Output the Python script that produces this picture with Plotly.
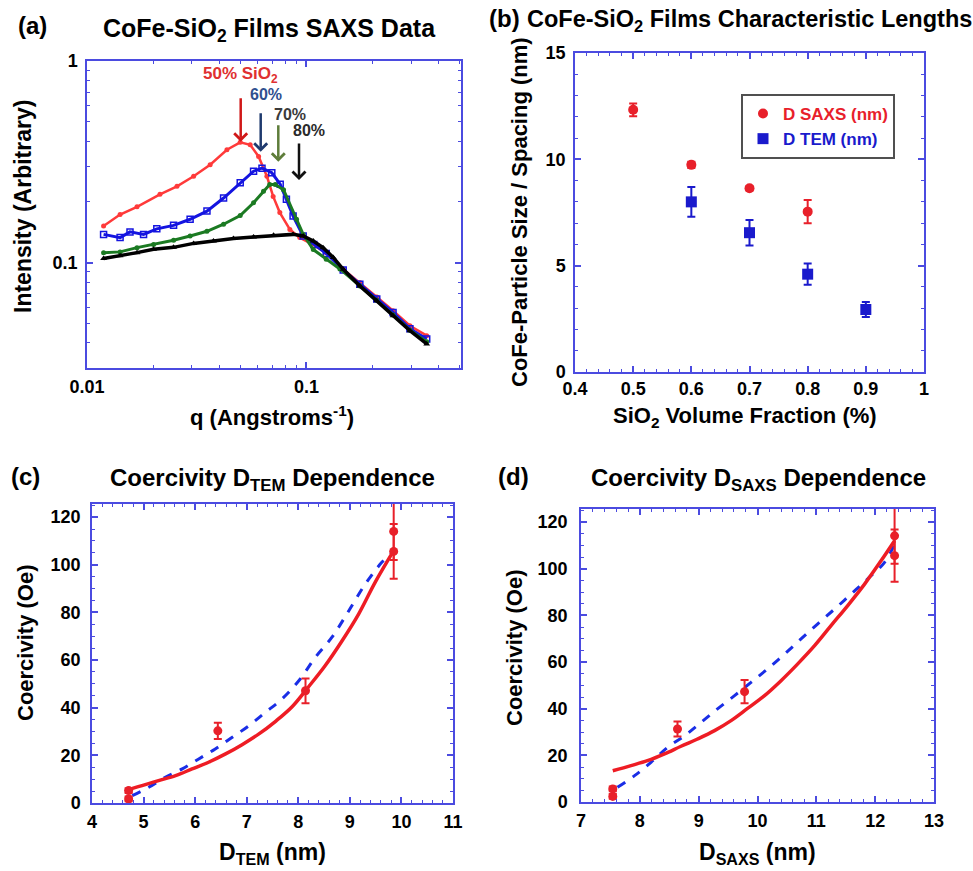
import plotly.graph_objects as go

W, H = 973, 871

# ---------------- data ----------------
# (a) SAXS intensity vs q
q_red = [0.0119, 0.01415, 0.0169, 0.0215, 0.0257, 0.0306, 0.0364, 0.0434, 0.0499, 0.0554, 0.0605,
         0.066, 0.0705, 0.0756, 0.084, 0.0932, 0.105, 0.123, 0.147, 0.175, 0.209, 0.248, 0.296, 0.353]
I_red = [0.152, 0.173, 0.189, 0.218, 0.239, 0.268, 0.306, 0.363, 0.395, 0.384, 0.336,
         0.268, 0.213, 0.177, 0.146, 0.133, 0.124, 0.112, 0.0926, 0.0796, 0.0675, 0.0577, 0.0486, 0.0434]

q_blue = [0.0119, 0.01415, 0.0157, 0.0181, 0.0208, 0.0248, 0.0295, 0.0352, 0.0419, 0.0499, 0.0574, 0.0627,
          0.0695, 0.0759, 0.081, 0.0869, 0.0966, 0.108, 0.123, 0.147, 0.175, 0.209, 0.248, 0.296, 0.353]
I_blue = [0.138, 0.133, 0.142, 0.138, 0.147, 0.153, 0.164, 0.180, 0.209, 0.249, 0.284, 0.294,
          0.279, 0.245, 0.206, 0.170, 0.1355, 0.123, 0.111, 0.092, 0.078, 0.066, 0.0566, 0.047, 0.0418]

q_green = [0.0119, 0.01415, 0.0169, 0.0201, 0.0248, 0.0295, 0.0352, 0.0419, 0.0499, 0.0574, 0.0637, 0.068,
           0.072, 0.0786, 0.0901, 0.0966, 0.1074, 0.123, 0.142, 0.175, 0.209, 0.248, 0.296, 0.353]
I_green = [0.112, 0.113, 0.1186, 0.123, 0.129, 0.1355, 0.143, 0.155, 0.171, 0.198, 0.226, 0.244,
           0.244, 0.230, 0.164, 0.138, 0.116, 0.104, 0.093, 0.0766, 0.065, 0.055, 0.0462, 0.0405]

q_black = [0.0119, 0.01415, 0.0169, 0.0201, 0.0248, 0.0306, 0.0377, 0.0465, 0.0574, 0.0708, 0.0869,
           0.0966, 0.1074, 0.119, 0.1324, 0.147, 0.175, 0.209, 0.248, 0.296, 0.353]
I_black = [0.1047, 0.108, 0.112, 0.1164, 0.119, 0.1245, 0.128, 0.1315, 0.134, 0.1365, 0.138,
           0.1355, 0.128, 0.1186, 0.106, 0.0926, 0.0766, 0.0646, 0.0545, 0.0459, 0.0395]

# (b) characteristic lengths
frac_saxs = [0.5, 0.6, 0.7, 0.8]
d_saxs = [12.33, 9.74, 8.64, 7.54]
d_saxs_err = [0.3, 0.15, 0.1, 0.55]
frac_tem = [0.6, 0.7, 0.8, 0.9]
d_tem = [8.0, 6.55, 4.6, 2.94]
d_tem_err = [0.7, 0.6, 0.5, 0.35]

# (c) coercivity vs D_TEM
c_D = [4.71, 4.71, 6.44, 8.14, 9.85, 9.85]
c_H = [1.7, 5.2, 30.3, 47.1, 114.0, 105.6]
c_err = [1.0, 1.0, 3.4, 5.2, 12.0, 11.5]
c_fit1_x = [4.68, 4.97, 5.29, 5.62, 5.94, 6.26, 6.59, 6.91, 7.23, 7.56, 7.88, 8.20, 8.52, 8.85, 9.17, 9.49, 9.85]
c_fit1_y = [5.5, 7.3, 9.4, 11.5, 14.3, 17.1, 20.6, 24.5, 28.9, 34.3, 40.4, 48.8, 57.6, 68.1, 79.3, 92.6, 105.9]
c_fit2_x = [4.78, 5.10, 5.42, 5.75, 6.07, 6.39, 6.72, 7.04, 7.36, 7.68, 8.01, 8.33, 8.65, 8.98, 9.30, 9.62, 9.79]
c_fit2_y = [3.1, 6.6, 10.8, 14.3, 18.5, 22.7, 27.6, 32.4, 38.0, 43.6, 51.3, 61.1, 69.5, 80.7, 91.9, 101.0, 104.5]

# (d) coercivity vs D_SAXS
d_D = [7.54, 7.54, 8.64, 9.78, 12.33, 12.33]
d_H = [2.4, 5.6, 31.3, 47.3, 114.1, 105.6]
d_err = [1.0, 1.0, 3.2, 5.0, 12.0, 11.2]
d_fit1_x = [7.54, 7.85, 8.13, 8.42, 8.70, 8.98, 9.27, 9.55, 9.83, 10.12, 10.40, 10.68, 10.97, 11.25, 11.53, 11.82, 12.10, 12.33]
d_fit1_y = [13.4, 15.6, 17.7, 20.6, 23.9, 27.0, 30.6, 34.9, 40.1, 45.6, 52.0, 59.1, 67.0, 75.6, 84.1, 93.4, 103.4, 112.0]
d_fit2_x = [7.62, 7.91, 8.19, 8.47, 8.76, 9.04, 9.32, 9.61, 9.89, 10.17, 10.46, 10.74, 11.02, 11.31, 11.59, 11.87, 12.16, 12.33]
d_fit2_y = [6.3, 11.3, 17.0, 23.4, 28.4, 34.1, 39.9, 45.6, 51.3, 57.0, 63.4, 69.9, 76.3, 82.7, 89.1, 95.6, 102.7, 110.6]

# ---------------- styles ----------------
FONT = "Liberation Sans"
FRAME = "#4b4be0"
RED = "#e8202a"
BLUE = "#1a2ee6"


def px(x):
    return x / W


def py(y):
    return 1 - y / H


fig = go.Figure()

# (a)
fig.add_trace(go.Scatter(x=q_red, y=I_red, mode="lines+markers", xaxis="x", yaxis="y", showlegend=False,
                         line=dict(color="#ff3a3a", width=2.5), marker=dict(color="#ff3a3a", size=5, symbol="circle")))
fig.add_trace(go.Scatter(x=q_blue, y=I_blue, mode="lines+markers", xaxis="x", yaxis="y", showlegend=False,
                         line=dict(color="#1414e0", width=3),
                         marker=dict(color="#1414e0", size=6, symbol="square-open", line=dict(width=1.5))))
fig.add_trace(go.Scatter(x=q_green, y=I_green, mode="lines+markers", xaxis="x", yaxis="y", showlegend=False,
                         line=dict(color="#1b7a22", width=3), marker=dict(color="#1b7a22", size=5, symbol="circle")))
fig.add_trace(go.Scatter(x=q_black, y=I_black, mode="lines+markers", xaxis="x", yaxis="y", showlegend=False,
                         line=dict(color="#000000", width=3.5), marker=dict(color="#000000", size=6, symbol="triangle-up")))

# (b)
fig.add_trace(go.Scatter(x=frac_saxs, y=d_saxs, mode="markers", xaxis="x2", yaxis="y2",
                         name="<span style='color:#e8202a'>D SAXS (nm)</span>",
                         marker=dict(color=RED, size=10, symbol="circle"),
                         error_y=dict(type="data", array=d_saxs_err, color=RED, thickness=2, width=4)))
fig.add_trace(go.Scatter(x=frac_tem, y=d_tem, mode="markers", xaxis="x2", yaxis="y2",
                         name="<span style='color:#1a1acc'>D TEM (nm)</span>",
                         marker=dict(color="#1a1acc", size=11, symbol="square"),
                         error_y=dict(type="data", array=d_tem_err, color="#1a1acc", thickness=2, width=4)))

# (c)
fig.add_trace(go.Scatter(x=c_fit2_x, y=c_fit2_y, mode="lines", xaxis="x3", yaxis="y3", showlegend=False,
                         line=dict(color=BLUE, width=3, dash="dash", shape="spline")))
fig.add_trace(go.Scatter(x=c_fit1_x, y=c_fit1_y, mode="lines", xaxis="x3", yaxis="y3", showlegend=False,
                         line=dict(color="#ee1c24", width=3.5, shape="spline")))
fig.add_trace(go.Scatter(x=c_D, y=c_H, mode="markers", xaxis="x3", yaxis="y3", showlegend=False,
                         marker=dict(color=RED, size=9),
                         error_y=dict(type="data", array=c_err, color=RED, thickness=2, width=4)))

# (d)
fig.add_trace(go.Scatter(x=d_fit2_x, y=d_fit2_y, mode="lines", xaxis="x4", yaxis="y4", showlegend=False,
                         line=dict(color=BLUE, width=3, dash="dash", shape="spline")))
fig.add_trace(go.Scatter(x=d_fit1_x, y=d_fit1_y, mode="lines", xaxis="x4", yaxis="y4", showlegend=False,
                         line=dict(color="#ee1c24", width=3.5, shape="spline")))
fig.add_trace(go.Scatter(x=d_D, y=d_H, mode="markers", xaxis="x4", yaxis="y4", showlegend=False,
                         marker=dict(color=RED, size=9),
                         error_y=dict(type="data", array=d_err, color=RED, thickness=2, width=4)))


def axis(domain, rng, **kw):
    d = dict(domain=domain, range=rng, showline=True, linecolor=FRAME, linewidth=1.5, mirror="allticks",
             ticks="inside", ticklen=6, tickwidth=1.5, tickcolor=FRAME, showgrid=False, zeroline=False,
             automargin=False,
             tickfont=dict(family=FONT, size=18, color="black", weight="bold"))
    d.update(kw)
    return d


def minor_lin(dt):
    return dict(ticks="inside", ticklen=3, tickwidth=1, tickcolor=FRAME, dtick=dt, showgrid=False)


fig.update_layout(
    width=W, height=H, margin=dict(l=0, r=0, t=0, b=0, autoexpand=False),
    paper_bgcolor="white", plot_bgcolor="white",
    font=dict(family=FONT, color="black"),
    xaxis=axis([px(87), px(461)], [-2, -0.296], type="log", anchor="y",
               tickvals=[0.01, 0.1], ticktext=["0.01", "0.1"], ticklabelstandoff=2,
               minor=dict(ticks="inside", ticklen=3, tickwidth=1, tickcolor=FRAME,
                          tickvals=[0.02, 0.03, 0.04, 0.05, 0.06, 0.07, 0.08, 0.09, 0.2, 0.3, 0.4, 0.5])),
    yaxis=axis([py(368), py(61)], [-1.523, 0], type="log", anchor="x",
               tickvals=[0.1, 1], ticktext=["0.1", "1"], ticklabelstandoff=4,
               minor=dict(ticks="inside", ticklen=3, tickwidth=1, tickcolor=FRAME,
                          tickvals=[0.04, 0.05, 0.06, 0.07, 0.08, 0.09, 0.2, 0.3, 0.4, 0.5, 0.6, 0.7, 0.8, 0.9])),
    xaxis2=axis([px(575), px(924)], [0.4, 1.0], anchor="y2",
                tickvals=[0.4, 0.5, 0.6, 0.7, 0.8, 0.9, 1.0],
                ticktext=["0.4", "0.5", "0.6", "0.7", "0.8", "0.9", "1"], ticklabelstandoff=0,
                minor=minor_lin(0.02)),
    yaxis2=axis([py(372), py(53)], [0, 15], anchor="x2", dtick=5, ticklabelstandoff=4, minor=minor_lin(1)),
    xaxis3=axis([px(92), px(453)], [4, 11], anchor="y3", dtick=1, ticklabelstandoff=2, minor=minor_lin(0.2)),
    yaxis3=axis([py(803), py(504)], [0, 125.5], anchor="x3", dtick=20, ticklabelstandoff=6, minor=minor_lin(5)),
    xaxis4=axis([px(581), px(934)], [7, 13], anchor="y4", dtick=1, ticklabelstandoff=2, minor=minor_lin(0.2)),
    yaxis4=axis([py(802), py(509)], [0, 125.6], anchor="x4", dtick=20, ticklabelstandoff=8, minor=minor_lin(5)),
    legend=dict(x=px(741), y=py(94), xanchor="left", yanchor="top", bgcolor="white",
                bordercolor="#505050", borderwidth=2, font=dict(family=FONT, size=17, weight="bold"),
                itemwidth=30, tracegroupgap=0),
)


def txt(x, y, s, size=22, color="black", angle=0, xanchor="center", pad=1):
    fig.add_annotation(x=px(x), y=py(y), xref="paper", yref="paper", text=s, showarrow=False,
                       textangle=angle, xanchor=xanchor, yanchor="middle", borderpad=pad,
                       font=dict(family=FONT, size=size, color=color, weight="bold"))


# panel labels & titles
txt(32, 26, "(a)", 24)
txt(269, 30, "CoFe-SiO<sub>2</sub> Films SAXS Data", 25)
txt(505, 18, "(b)", 24)
txt(749, 20, "CoFe-SiO<sub>2</sub> Films Characteristic Lengths", 23.5)
txt(25, 476, "(c)", 24)
txt(272, 480, "Coercivity D<sub>TEM</sub> Dependence", 24)
txt(513, 476, "(d)", 24)
txt(758, 480, "Coercivity D<sub>SAXS</sub> Dependence", 24)

# axis titles
txt(23, 207, "Intensity (Arbitrary)", 23, angle=-90)
txt(272, 416, "q (Angstroms<sup>-1</sup>)", 22)
txt(520, 212, "CoFe-Particle Size / Spacing (nm)", 22, angle=-90)
txt(745, 417, "SiO<sub>2</sub> Volume Fraction (%)", 22)
txt(25, 643, "Coercivity (Oe)", 22, angle=-90)
txt(272, 853, "D<sub>TEM</sub> (nm)", 23)
txt(514, 648, "Coercivity (Oe)", 22, angle=-90)
txt(757, 853, "D<sub>SAXS</sub> (nm)", 23)

# peak labels in (a)
txt(240, 75, "50% SiO<sub>2</sub>", 17, color="#e03030", pad=0)
txt(266, 95, "60%", 16, color="#2f4f8f", pad=0)
txt(290, 114, "70%", 16, color="#3a3a3a", pad=0)
txt(309, 131, "80%", 16, color="#2a2a2a", pad=0)

for x, ytip, ylen, col in [(240.7, 141.7, 45, "#d01818"), (260.7, 151.7, 40, "#1f3a6e"),
                           (278.3, 161.7, 38, "#5e7d3a"), (299.0, 180.0, 38, "#111111")]:
    fig.add_annotation(x=px(x), y=py(ytip), xref="paper", yref="paper", ax=0, ay=-ylen,
                       showarrow=True, arrowhead=4, arrowsize=1, arrowwidth=2.5, arrowcolor=col, text="")

fig.write_html("out.html", config={"displayModeBar": False},
               post_script="document.body.style.margin='0px';")
